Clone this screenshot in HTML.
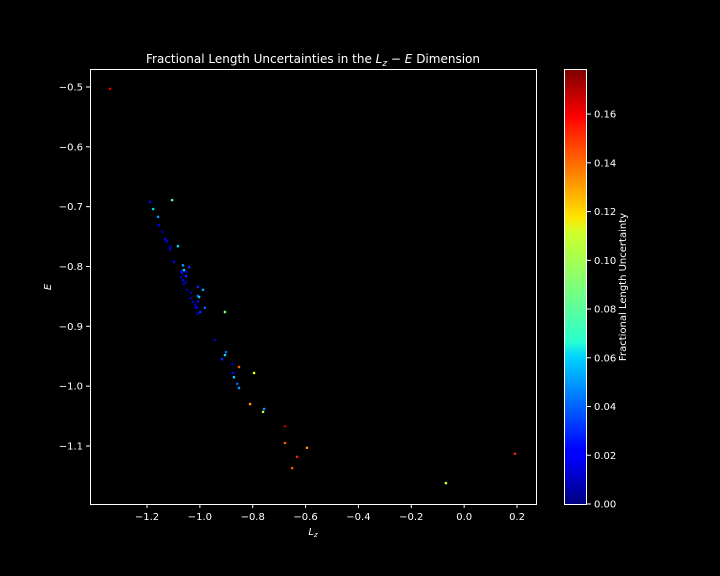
<!DOCTYPE html>
<html><head><meta charset="utf-8"><style>
html,body{margin:0;padding:0;background:#000;width:720px;height:576px;overflow:hidden;}
svg{display:block;}
svg text{font-family:"DejaVu Sans","Liberation Sans",sans-serif;fill:#fff;}
</style></head><body>
<svg id="c" width="720" height="576" xmlns="http://www.w3.org/2000/svg">
<defs><linearGradient id="jet" x1="0" y1="1" x2="0" y2="0">
<stop offset="0" stop-color="#00007f"/><stop offset="0.11" stop-color="#0000ff"/><stop offset="0.125" stop-color="#0000ff"/>
<stop offset="0.34" stop-color="#00d4ff"/><stop offset="0.375" stop-color="#29ffce"/><stop offset="0.5" stop-color="#7dff7a"/>
<stop offset="0.625" stop-color="#ceff29"/><stop offset="0.66" stop-color="#ffe500"/><stop offset="0.875" stop-color="#ff1300"/>
<stop offset="0.89" stop-color="#ff0000"/><stop offset="1" stop-color="#7f0000"/></linearGradient></defs>
<text x="313" y="63" text-anchor="middle" font-size="12">Fractional Length Uncertainties in the <tspan font-style="italic">L</tspan><tspan font-style="italic" font-size="9" dy="3">z</tspan><tspan dy="-3"> − </tspan><tspan font-style="italic">E</tspan> Dimension</text>
<g id="plot"></g>
<rect x="90.5" y="69.5" width="446" height="435" fill="none" stroke="#fff" stroke-width="1"/>
<text x="313" y="535" text-anchor="middle" font-size="10" font-style="italic">L<tspan font-size="7" dy="2">z</tspan></text>
<text x="51" y="287" text-anchor="middle" font-size="10" font-style="italic" transform="rotate(-90 51 287)">E</text>
<rect x="564.5" y="69.5" width="22" height="435" fill="url(#jet)" stroke="#fff" stroke-width="1"/>
<text x="626" y="287" text-anchor="middle" font-size="10" transform="rotate(-90 626 287)">Fractional Length Uncertainty</text>
</svg>
<script>
const xTicks=[-1.2,-1.0,-0.8,-0.6,-0.4,-0.2,0.0,0.2];
const yTicks=[-0.5,-0.6,-0.7,-0.8,-0.9,-1.0,-1.1];
const cTicks=[0,0.02,0.04,0.06,0.08,0.10,0.12,0.14,0.16];
const cMax=0.1785;
const lz=[-1.189,-1.105,-1.177,-1.158,-1.155,-1.143,-1.132,-1.124,-1.128,-1.109,-1.113,-1.113,-1.083,-1.098,-1.064,-1.041,-1.060,-1.071,-1.052,-1.068,-1.052,-1.071,-1.064,-1.052,-1.060,-1.007,-0.988,-1.049,-1.034,-1.007,-1.003,-1.034,-1.026,-1.007,-1.018,-1.011,-1.015,-0.981,-0.999,-1.007,-0.905,-0.943,-0.901,-0.905,-0.916,-0.878,-0.852,-0.795,-0.875,-0.871,-0.859,-0.852,-0.810,-0.757,-0.761,-0.678,-0.678,-0.595,-0.632,-0.651,-1.340,-0.069,0.192];
const en=[-0.692,-0.689,-0.704,-0.717,-0.731,-0.742,-0.754,-0.757,-0.759,-0.766,-0.769,-0.772,-0.766,-0.792,-0.798,-0.801,-0.806,-0.808,-0.809,-0.811,-0.816,-0.818,-0.823,-0.826,-0.829,-0.834,-0.839,-0.839,-0.844,-0.849,-0.851,-0.853,-0.859,-0.859,-0.864,-0.868,-0.869,-0.869,-0.876,-0.879,-0.876,-0.923,-0.943,-0.948,-0.955,-0.963,-0.968,-0.978,-0.978,-0.985,-0.996,-1.003,-1.030,-1.038,-1.043,-1.067,-1.095,-1.103,-1.118,-1.137,-0.503,-1.162,-1.113];
const unc=[0.02,0.08,0.06,0.05,0.02,0.01,0.02,0.01,0.01,0.005,0.01,0.01,0.06,0.02,0.05,0.03,0.06,0.02,0.02,0.02,0.03,0.01,0.02,0.01,0.01,0.03,0.05,0.005,0.01,0.04,0.06,0.01,0.01,0.02,0.01,0.02,0.02,0.04,0.03,0.02,0.09,0.01,0.04,0.06,0.03,0.01,0.14,0.11,0.02,0.06,0.04,0.05,0.13,0.05,0.10,0.17,0.14,0.13,0.15,0.14,0.16,0.10,0.15];
const X=v=>147+(v+1.2)*264.3, Y=v=>87-(v+0.5)*598.3, C=v=>504-v/cMax*435;
function jet(t){t=Math.max(0,Math.min(1,t));const f=a=>Math.round(255*Math.max(0,Math.min(1,1.5-Math.abs(4*t-a))));return `rgb(${f(3)},${f(2)},${f(1)})`;}
const ns="http://www.w3.org/2000/svg",svg=document.getElementById('c'),g=document.getElementById('plot');
function mk(t,a,p){const e=document.createElementNS(ns,t);for(const k in a)e.setAttribute(k,a[k]);(p||svg).appendChild(e);return e;}
xTicks.forEach(v=>{const x=X(v);
const l=mk('line',{x1:x,x2:x,y1:504,y2:508,stroke:'#fff'});


const t=mk('text',{x:x,y:520,'text-anchor':'middle','font-size':10});t.textContent=(v<0?'−':'')+Math.abs(v).toFixed(1);

});
yTicks.forEach(v=>{const y=Y(v);
const l=mk('line',{x1:86,x2:90,y1:y,y2:y,stroke:'#fff'});


const t=mk('text',{x:83,y:y+3.5,'text-anchor':'end','font-size':10});t.textContent='−'+Math.abs(v).toFixed(1);

});
cTicks.forEach(v=>{const y=C(v);
const l=mk('line',{x1:587,x2:591,y1:y,y2:y,stroke:'#fff'});


const t=mk('text',{x:594,y:y+3.5,'font-size':10});t.textContent=v.toFixed(2);

});
lz.forEach((v,i)=>{const p=mk('circle',{cx:X(v),cy:Y(en[i]),r:1.3,fill:jet(unc[i]/cMax)},g);

});
</script>
</body></html>
